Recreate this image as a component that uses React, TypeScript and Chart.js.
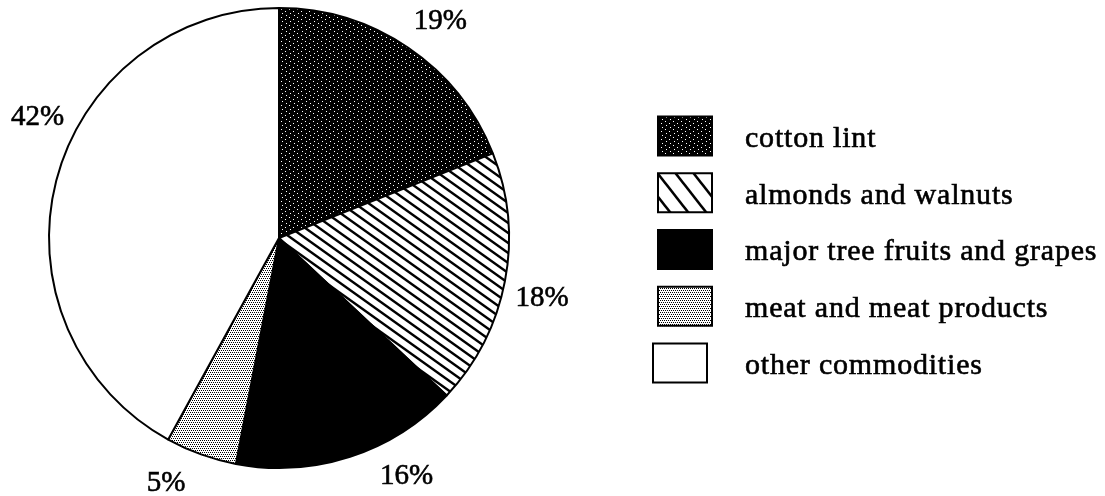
import React, { useEffect, useRef } from "react";
import { Chart, registerables } from "chart.js";

Chart.register(...registerables);

// ---- data ----
const categories = [
  "cotton lint",
  "almonds and walnuts",
  "major tree fruits and grapes",
  "meat and meat products",
  "other commodities",
];
const shares = [19, 18, 16, 5, 42];
const pctLabels = ["19%", "18%", "16%", "5%", "42%"];

// ---- layout / style constants ----
const CANVAS_W = 1105;
const CANVAS_H = 496;
const PIE_RADIUS = 230;
const LABEL_GAP = 40;
const LABEL_ANGLE_SHIFT = [2.5, 2.1, -10.2, 4.9, 12.2]; // degrees
const LEGEND_BOX_X = [658, 658, 658, 658, 653];
const LEGEND_FIRST_CENTER = 136;
const LEGEND_STEP = 56.75;
const LEGEND_BOX_W = 54;
const LEGEND_BOX_H = 39;
const LEGEND_TEXT_X = 745;
const SERIF = '"Liberation Serif", "Times New Roman", serif';

function makeTile(w: number, h: number, draw: (c: CanvasRenderingContext2D) => void) {
  const c = document.createElement("canvas");
  c.width = w;
  c.height = h;
  const ctx = c.getContext("2d")!;
  draw(ctx);
  return c;
}

function hatchTile(w: number, h: number, lw: number) {
  return makeTile(w, h, (c) => {
    c.fillStyle = "#fff";
    c.fillRect(0, 0, w, h);
    c.strokeStyle = "#000";
    c.lineWidth = lw;
    for (let k = -1; k <= 1; k++) {
      c.beginPath();
      c.moveTo(-w, -h + k * h);
      c.lineTo(2 * w, 2 * h + k * h);
      c.stroke();
    }
  });
}

function cottonTile() {
  return makeTile(8, 8, (c) => {
    c.fillStyle = "#000";
    c.fillRect(0, 0, 8, 8);
    c.fillStyle = "#fff";
    const pts = [
      [1, 1],
      [5, 3],
      [2, 5],
      [6, 7],
    ];
    pts.forEach(([x, y]) => c.fillRect(x, y, 1, 1));
  });
}

function meatTile() {
  return makeTile(4, 4, (c) => {
    c.fillStyle = "#fff";
    c.fillRect(0, 0, 4, 4);
    c.fillStyle = "#000";
    [
      [0, 0],
      [2, 0],
      [1, 2],
      [3, 2],
    ].forEach(([x, y]) => c.fillRect(x, y, 1, 1));
  });
}

export default function App() {
  const ref = useRef<HTMLCanvasElement | null>(null);

  useEffect(() => {
    const canvas = ref.current!;
    const ctx = canvas.getContext("2d")!;
    const pCotton = ctx.createPattern(cottonTile(), "repeat")!;
    const pHatch = ctx.createPattern(hatchTile(14, 10, 2.4), "repeat")!;
    const pHatchLegend = ctx.createPattern(hatchTile(18, 23, 2.6), "repeat")!;
    const pMeat = ctx.createPattern(meatTile(), "repeat")!;
    const sliceFills = [pCotton, pHatch, "#000", pMeat, "#fff"];
    const legendFills = [pCotton, pHatchLegend, "#000", pMeat, "#fff"];

    const pctPlugin = {
      id: "pctLabels",
      afterDatasetsDraw(chart: any) {
        const meta = chart.getDatasetMeta(0);
        const c = chart.ctx;
        c.save();
        c.font = `29px ${SERIF}`;
        c.fillStyle = "#000";
        c.strokeStyle = "#000";
        c.lineWidth = 0.6;
        c.textAlign = "center";
        c.textBaseline = "middle";
        meta.data.forEach((arc: any, i: number) => {
          const { x, y, startAngle, endAngle, outerRadius } = arc.getProps(
            ["x", "y", "startAngle", "endAngle", "outerRadius"],
            true
          );
          const mid = (startAngle + endAngle) / 2 + (LABEL_ANGLE_SHIFT[i] * Math.PI) / 180;
          const r = outerRadius + LABEL_GAP;
          const tx = x + Math.cos(mid) * r;
          const ty = y + Math.sin(mid) * r;
          c.fillText(pctLabels[i], tx, ty);
          c.strokeText(pctLabels[i], tx, ty);
        });
        c.restore();
      },
    };

    const legendPlugin = {
      id: "sideLegend",
      afterDraw(chart: any) {
        const c = chart.ctx;
        c.save();
        categories.forEach((label, i) => {
          const cy = LEGEND_FIRST_CENTER + i * LEGEND_STEP;
          const bx = LEGEND_BOX_X[i];
          const by = cy - LEGEND_BOX_H / 2;
          c.fillStyle = legendFills[i] as any;
          c.fillRect(bx, by, LEGEND_BOX_W, LEGEND_BOX_H);
          c.strokeStyle = "#000";
          c.lineWidth = 2;
          c.strokeRect(bx, by, LEGEND_BOX_W, LEGEND_BOX_H);
          c.fillStyle = "#000";
          c.font = `30px ${SERIF}`;
          (c as any).letterSpacing = "0.8px";
          c.textAlign = "left";
          c.textBaseline = "middle";
          c.lineWidth = 0.6;
          c.fillText(label, LEGEND_TEXT_X, cy + 3);
          c.strokeText(label, LEGEND_TEXT_X, cy + 3);
        });
        c.restore();
      },
    };

    const chart = new Chart(canvas, {
      type: "pie",
      data: {
        labels: categories,
        datasets: [
          {
            data: shares,
            backgroundColor: sliceFills as any,
            borderColor: "#000",
            borderWidth: 2,
          },
        ],
      },
      options: {
        responsive: false,
        animation: false,
        devicePixelRatio: 1,
        radius: PIE_RADIUS,
        layout: { padding: { left: 0, right: 547, top: 0, bottom: 20 } },
        plugins: {
          legend: { display: false },
          tooltip: { enabled: false },
        },
      } as any,
      plugins: [pctPlugin, legendPlugin],
    });
    return () => chart.destroy();
  }, []);

  return (
    <div
      style={{
        position: "absolute",
        left: 0,
        top: 0,
        width: CANVAS_W,
        height: CANVAS_H,
        background: "#fff",
      }}
    >
      <canvas ref={ref} width={CANVAS_W} height={CANVAS_H} />
    </div>
  );
}
